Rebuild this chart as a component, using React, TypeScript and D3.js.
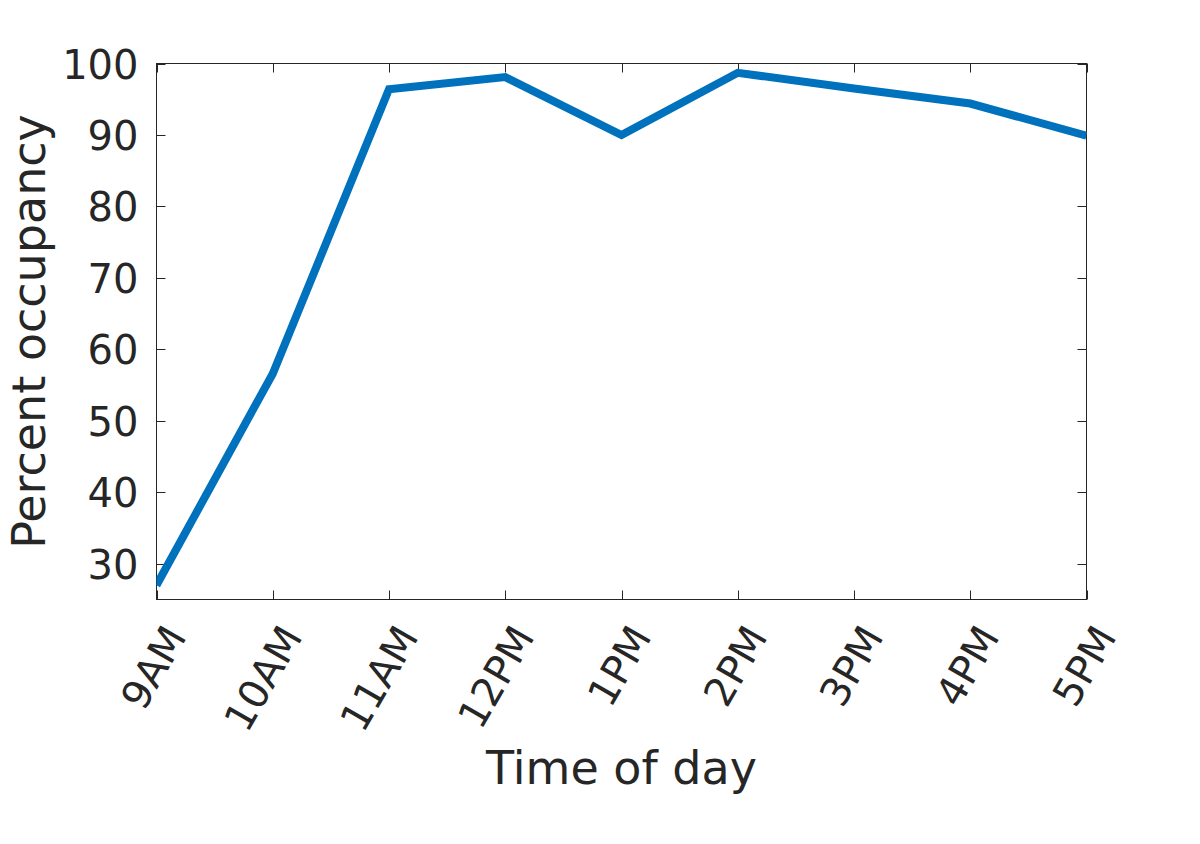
import React, { useEffect } from "react";
import * as d3 from "d3";

const categories = ["9AM", "10AM", "11AM", "12PM", "1PM", "2PM", "3PM", "4PM", "5PM"];
const occupancy = [27, 56.6, 96.4, 98.1, 90, 98.7, 96.5, 94.4, 89.9];
const yTicks = [30, 40, 50, 60, 70, 80, 90, 100];

const W = 1200, H = 844;
const L = 156.5, R = 1086.5, T = 63.5, B = 599.5;
const FONT = "'DejaVu Sans', sans-serif";
const INK = "#262626";

export default function App() {
  useEffect(() => {
    document.body.style.margin = "0";
  }, []);
  const x = d3.scalePoint<string>().domain(categories).range([L, R]).padding(0);
  const y = d3.scaleLinear().domain([25, 100]).range([B, T]);
  const line = d3
    .line<number>()
    .x((_, i) => x(categories[i]) as number)
    .y((d) => y(d));
  const tickLen = 9;
  return (
    <svg width={W} height={H} style={{ display: "block", background: "#fff" }}>
      <defs>
        <clipPath id="clip">
          <rect x={L} y={T} width={R - L} height={B - T} />
        </clipPath>
      </defs>
      <rect x={L} y={T} width={R - L} height={B - T} fill="none" stroke={INK} strokeWidth={1} />
      {categories.map((c) => {
        const xx = Math.round(x(c) as number) + 0.5;
        return (
          <g key={c}>
            <line x1={xx} x2={xx} y1={B} y2={B - tickLen} stroke={INK} />
            <line x1={xx} x2={xx} y1={T} y2={T + tickLen} stroke={INK} />
            <text
              transform={`translate(${xx + 30},${B + 37}) rotate(-60)`}
              textAnchor="end"
              fontFamily={FONT}
              fontSize={40}
              fill={INK}
            >
              {c}
            </text>
          </g>
        );
      })}
      {yTicks.map((t) => {
        const yy = Math.round(y(t)) + 0.5;
        return (
          <g key={t}>
            <line x1={L} x2={L + tickLen} y1={yy} y2={yy} stroke={INK} />
            <line x1={R} x2={R - tickLen} y1={yy} y2={yy} stroke={INK} />
            <text
              x={L - 18}
              y={yy}
              dy="0.36em"
              textAnchor="end"
              fontFamily={FONT}
              fontSize={40}
              fill={INK}
            >
              {t}
            </text>
          </g>
        );
      })}
      <path
        d={line(occupancy) || ""}
        fill="none"
        stroke="#0072BD"
        strokeWidth={8}
        strokeLinejoin="miter"
        clipPath="url(#clip)"
      />
      <text x={(L + R) / 2} y={784} textAnchor="middle" fontFamily={FONT} fontSize={46} fill={INK}>
        Time of day
      </text>
      <text
        transform={`translate(45,${(T + B) / 2}) rotate(-90)`}
        textAnchor="middle"
        fontFamily={FONT}
        fontSize={46}
        fill={INK}
      >
        Percent occupancy
      </text>
    </svg>
  );
}
